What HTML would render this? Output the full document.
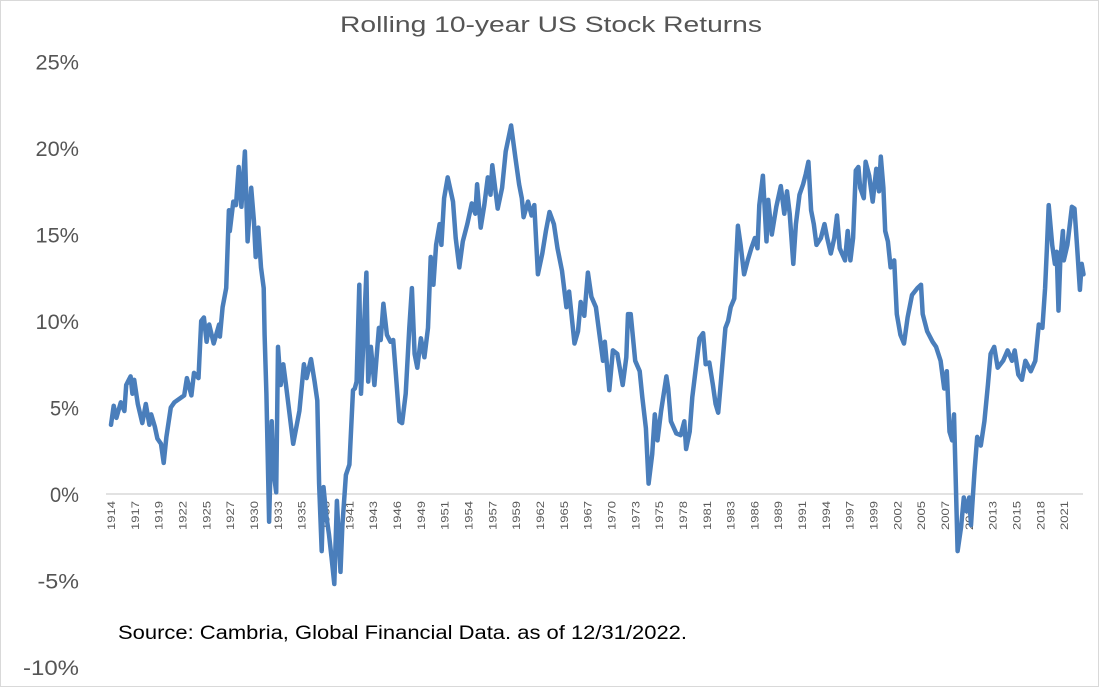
<!DOCTYPE html>
<html><head><meta charset="utf-8"><style>
body{margin:0;background:#fff;}
#wrap{position:relative;width:1099px;height:687px;overflow:hidden;box-sizing:border-box;border:1px solid #d9d9d9;}
svg text{font-family:"Liberation Sans",sans-serif;}
</style></head><body>
<div id="wrap">
<svg id="chart" width="1099" height="687"></svg>
</div>
<script>
const yTicks=[25,20,15,10,5,0,-5,-10];
const xLabels=["1914","1917","1919","1922","1925","1927","1930","1933","1935","1938","1941","1943","1946","1949","1951","1954","1957","1959","1962","1965","1967","1970","1973","1975","1978","1981","1983","1986","1989","1991","1994","1997","1999","2002","2005","2007","2010","2013","2015","2018","2021"];
const years=[1914.0,1914.3,1914.6,1915.1,1915.5,1915.7,1916.2,1916.4,1916.6,1917.0,1917.5,1917.9,1918.3,1918.5,1918.9,1919.2,1919.6,1919.9,1920.2,1920.7,1921.1,1922.2,1922.5,1923.0,1923.3,1923.8,1924.1,1924.4,1924.7,1925.0,1925.5,1926.1,1926.2,1926.5,1926.9,1927.2,1927.3,1927.7,1928.0,1928.3,1928.6,1929.0,1929.3,1929.7,1930.0,1930.2,1930.5,1930.8,1931.1,1931.2,1931.4,1931.7,1932.0,1932.2,1932.5,1932.7,1933.0,1933.3,1933.6,1934.0,1934.4,1935.1,1935.6,1935.9,1936.4,1936.8,1937.1,1937.3,1937.6,1937.8,1938.1,1938.4,1938.7,1939.0,1939.3,1939.7,1939.9,1940.3,1940.7,1941.1,1941.3,1941.5,1941.8,1942.0,1942.3,1942.6,1942.8,1943.1,1943.5,1944.0,1944.2,1944.5,1944.9,1945.3,1945.6,1945.9,1946.3,1946.6,1947.0,1947.4,1947.7,1948.0,1948.3,1948.7,1949.1,1949.5,1949.8,1950.1,1950.4,1950.8,1951.0,1951.3,1951.7,1952.3,1952.6,1953.0,1953.4,1953.9,1954.4,1954.8,1955.0,1955.4,1955.8,1956.2,1956.5,1956.7,1957.3,1957.8,1958.2,1958.6,1958.8,1959.3,1959.7,1960.0,1960.2,1960.7,1961.1,1961.4,1961.8,1962.3,1962.7,1963.1,1963.6,1964.0,1964.5,1965.0,1965.3,1965.9,1966.3,1966.6,1967.0,1967.4,1967.8,1968.3,1968.7,1969.1,1969.3,1969.8,1970.2,1970.7,1971.3,1971.7,1971.9,1972.2,1972.7,1973.2,1973.5,1973.9,1974.2,1974.6,1974.9,1975.2,1975.6,1976.2,1976.4,1976.7,1977.3,1977.8,1978.2,1978.4,1978.8,1979.1,1979.5,1979.9,1980.3,1980.6,1981.0,1981.4,1981.7,1982.0,1982.3,1982.8,1983.1,1983.4,1983.8,1984.2,1984.5,1984.9,1985.3,1985.7,1986.1,1986.4,1986.6,1987.0,1987.4,1987.6,1988.0,1988.5,1989.0,1989.4,1989.7,1990.0,1990.4,1990.7,1991.1,1991.5,1991.8,1992.1,1992.4,1992.7,1993.0,1993.5,1993.9,1994.2,1994.6,1995.0,1995.3,1995.6,1996.2,1996.5,1996.8,1997.1,1997.4,1997.7,1997.9,1998.3,1998.5,1998.9,1999.3,1999.7,2000.0,2000.2,2000.5,2000.7,2001.0,2001.3,2001.7,2002.0,2002.4,2002.8,2003.2,2003.7,2004.3,2004.7,2004.9,2005.4,2006.0,2006.4,2006.9,2007.3,2007.6,2007.9,2008.2,2008.4,2008.8,2009.2,2009.5,2009.8,2010.1,2010.3,2010.7,2011.0,2011.4,2011.8,2012.2,2012.5,2012.9,2013.3,2013.9,2014.4,2014.9,2015.2,2015.6,2016.0,2016.4,2017.0,2017.5,2017.9,2018.3,2018.6,2018.8,2019.0,2019.4,2019.7,2019.9,2020.1,2020.3,2020.6,2020.7,2021.1,2021.6,2021.9,2022.2,2022.5,2022.7,2022.9];
const returns=[4.0,5.1,4.4,5.3,4.8,6.3,6.8,5.8,6.6,5.2,4.1,5.2,4.0,4.6,3.9,3.2,2.9,1.8,3.3,5.0,5.3,5.7,6.7,5.7,7.0,6.7,10.0,10.2,8.8,9.8,8.7,9.8,9.1,10.8,11.9,16.4,15.2,16.9,16.7,18.9,16.6,19.8,14.6,17.7,15.8,13.7,15.4,13.1,11.9,9.2,5.8,-1.6,4.2,1.3,0.1,8.5,6.3,7.5,6.3,4.6,2.9,4.8,7.5,6.7,7.8,6.5,5.4,0.6,-3.3,0.4,-1.2,-2.3,-3.7,-5.2,-0.4,-4.5,-1.9,1.1,1.7,6.0,6.1,6.5,12.1,5.8,9.2,12.8,6.5,8.5,6.3,9.6,8.9,11.0,9.2,8.8,8.9,6.9,4.2,4.1,5.8,9.6,11.9,8.1,7.3,9.0,7.9,9.6,13.7,12.1,14.4,15.6,14.4,17.1,18.3,16.9,14.8,13.1,14.6,15.6,16.8,16.2,17.9,15.4,16.7,18.3,17.3,19.0,16.5,17.7,19.8,20.8,21.3,19.4,17.9,17.1,16.0,16.9,16.1,16.7,12.7,13.9,15.2,16.3,15.6,14.2,12.9,10.8,11.7,8.7,9.4,11.1,10.3,12.8,11.4,10.8,9.2,7.7,8.8,6.0,8.3,8.1,6.3,7.9,10.4,10.4,7.7,7.1,5.6,3.8,0.6,2.3,4.6,3.1,4.8,6.8,6.1,4.2,3.5,3.4,4.2,2.6,3.6,5.6,7.3,9.0,9.3,7.5,7.6,6.3,5.2,4.7,6.5,9.6,10.0,10.8,11.3,15.5,14.4,12.7,13.5,14.2,14.8,14.2,16.7,18.4,14.6,17.0,15.0,16.6,17.8,16.2,17.5,16.2,13.3,15.6,17.3,17.9,18.5,19.2,16.4,15.6,14.4,14.8,15.6,14.8,13.9,14.8,16.1,14.2,13.5,15.2,13.5,14.8,18.7,18.9,17.7,17.1,19.2,18.4,16.9,18.8,17.5,19.5,17.7,15.2,14.6,13.1,13.5,10.4,9.2,8.7,10.2,11.5,11.9,12.1,10.4,9.4,8.8,8.5,7.7,6.1,7.1,3.6,3.1,4.6,-3.3,-1.9,-0.2,-1.0,-0.2,-1.8,1.3,3.3,2.8,4.2,6.3,8.1,8.5,7.3,7.7,8.3,7.7,8.3,6.9,6.6,7.7,7.1,7.7,9.8,9.6,11.9,14.2,16.7,14.4,13.3,14.0,10.6,13.5,15.2,13.5,14.4,16.6,16.5,14.2,11.8,13.3,12.7];

const svg=document.getElementById('chart');
const NS='http://www.w3.org/2000/svg';
function xs(yr){return 110+(yr-1914)*8.93;}
function ys(v){return 493-v*17.3;}
function mk(tag,attrs){const e=document.createElementNS(NS,tag);for(const k in attrs)e.setAttribute(k,attrs[k]);svg.appendChild(e);return e;}

const title=mk('text',{x:339,y:31,'font-size':22,fill:'#555',textLength:422,lengthAdjust:'spacingAndGlyphs'});
title.textContent='Rolling 10-year US Stock Returns';



yTicks.forEach(t=>{
  const s=t+'%';
  const w=s.length*14.5+(t<0?-2:0);
  const tx=mk('text',{x:78-w,y:ys(t)+8,'font-size':21,fill:'#555',textLength:w,lengthAdjust:'spacingAndGlyphs'});
  tx.textContent=s;
  
  
});

const axis=mk('line',{x1:105,x2:1082,y1:ys(0),y2:ys(0),stroke:'#d9d9d9','stroke-width':1.5});



xLabels.forEach((l,i)=>{
  const cx=110+i*23.83;
  const tx=mk('text',{x:0,y:0,'text-anchor':'end','font-size':11,fill:'#595959',transform:`translate(${cx+4},${500}) rotate(-90)`,textLength:29,lengthAdjust:'spacingAndGlyphs'});
  tx.textContent=l;
  
  
});

let d='';
years.forEach((yr,i)=>{d+=(i?'L':'M')+xs(yr).toFixed(1)+','+ys(returns[i]).toFixed(1);});
const line=mk('path',{d:d,fill:'none',stroke:'#4a7ebb','stroke-width':4.5,'stroke-linejoin':'round','stroke-linecap':'round'});



const src=mk('text',{x:117,y:638,'font-size':19,fill:'#000',textLength:569,lengthAdjust:'spacingAndGlyphs'});
src.textContent='Source: Cambria, Global Financial Data. as of 12/31/2022.';


</script>
</body></html>
